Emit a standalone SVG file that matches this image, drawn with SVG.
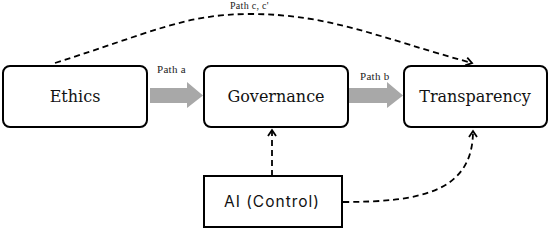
<svg xmlns="http://www.w3.org/2000/svg" width="550" height="228" viewBox="0 0 550 228">
<defs>
<style>
.box{fill:#fff;stroke:#000;stroke-width:2}
.lbl{font-family:"DejaVu Serif",serif;font-size:16px;fill:#111;text-anchor:middle}
.pl{font-family:"Liberation Serif",serif;font-size:11px;fill:#222;letter-spacing:0.3px}
.dash{fill:none;stroke:#000;stroke-width:1.8;stroke-dasharray:6,4}
.fat{fill:#a8a8a8}
</style>
<marker id="open" markerWidth="10" markerHeight="10" refX="8" refY="5" orient="auto" markerUnits="userSpaceOnUse">
<path d="M2,1 L8,5 L2,9" fill="none" stroke="#000" stroke-width="1.8"/>
</marker>
</defs>
<rect width="550" height="228" fill="#fff"/>
<g id="connectors">
<path class="fat" d="M150,88 H187 V82 L203,95.5 L187,108 V103 H150 Z"/>
<text class="pl" x="157" y="73">Path a</text>
<path class="fat" d="M348,88 H387 V82 L403,95.5 L387,108 V103 H348 Z"/>
<text class="pl" x="360" y="80">Path b</text>
<path class="dash" d="M55,63 C150,33 185,14 250,14 C330,14 380,38 472,63" marker-end="url(#open)"/>
<text class="pl" x="230" y="9" style="font-size:10px">Path c, c'</text>
<path class="dash" d="M272,176 V130" marker-end="url(#open)"/>
<path class="dash" d="M343,202 C420,202 473,192 473,131" marker-end="url(#open)"/>
</g>
<g id="ethics">
<rect class="box" x="3" y="66" width="144" height="61" rx="7"/>
<text class="lbl" x="75" y="102">Ethics</text>
</g>
<g id="governance">
<rect class="box" x="204" y="66" width="144" height="61" rx="7"/>
<text class="lbl" x="276" y="102">Governance</text>
</g>
<g id="transparency">
<rect class="box" x="404" y="66" width="143" height="61" rx="7"/>
<text class="lbl" x="475" y="102">Transparency</text>
</g>
<g id="ai">
<rect class="box" x="204" y="176" width="138" height="51"/>
<text x="272" y="207" style="font-family:Inter,sans-serif;font-size:15.5px;fill:#111;text-anchor:middle;letter-spacing:1px">AI (Control)</text>
</g>
</svg>
